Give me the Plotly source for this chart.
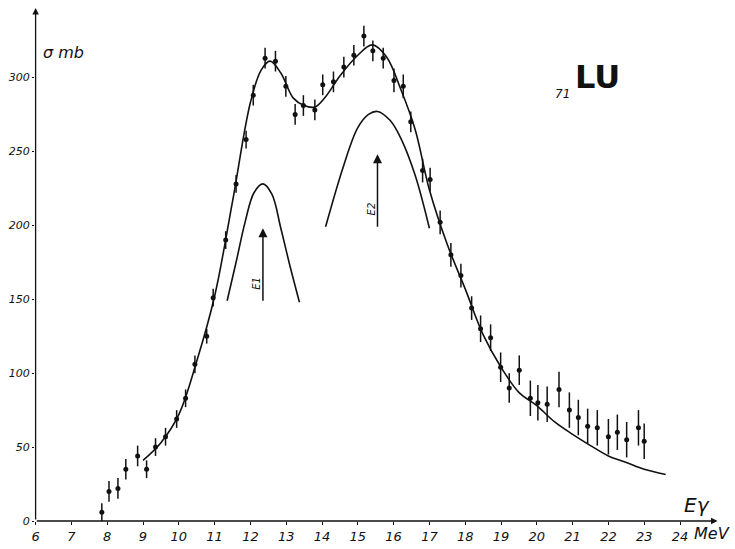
import plotly.graph_objects as go

# Measured points (E_gamma in MeV, sigma in mb, error in mb)
E_pts = [7.85, 8.05, 8.3, 8.52, 8.85, 9.1, 9.35, 9.63, 9.94, 10.19,
         10.45, 10.78, 10.96, 11.31, 11.6, 11.88, 12.08, 12.41, 12.7, 12.99,
         13.25, 13.48, 13.8, 14.02, 14.32, 14.61, 14.89, 15.17, 15.42, 15.71,
         16.01, 16.27, 16.48, 16.81, 17.02, 17.3, 17.6, 17.88, 18.18, 18.43,
         18.71, 18.99, 19.23, 19.51, 19.82, 20.03, 20.29, 20.62, 20.91, 21.16,
         21.42, 21.69, 22.0, 22.25, 22.51, 22.84, 23.0]
sig_pts = [6, 20, 22, 35, 44, 35, 50, 57, 69, 83,
           106, 125, 151, 190, 228, 258, 288, 313, 311, 294,
           275, 281, 278, 295, 297, 307, 315, 328, 318, 313,
           298, 294, 270, 237, 231, 202, 180, 166, 144, 130,
           124, 104, 90, 102, 83, 80, 79, 89, 75, 70,
           64, 63, 57, 60, 55, 63, 54]
err_pts = [6, 7, 7, 7, 7, 6, 6, 6, 6, 6,
           6, 5, 6, 6, 6, 6, 7, 7, 7, 7,
           7, 7, 7, 7, 7, 7, 7, 7, 7, 7,
           8, 8, 7, 8, 8, 8, 8, 8, 8, 9,
           9, 10, 10, 10, 12, 12, 12, 12, 12, 12,
           12, 12, 12, 12, 12, 12, 12]

# Total fitted curve
E_fit = [9.0, 9.5, 10.0, 10.5, 11.0, 11.5, 12.0, 12.3, 12.55, 12.85,
         13.2, 13.5, 13.8, 14.1, 14.5, 15.0, 15.4, 15.8, 16.2, 16.6,
         17.0, 17.5, 18.0, 18.5, 19.0, 19.5, 20.0, 20.5, 21.0, 21.5,
         22.0, 22.5, 23.0, 23.6]
sig_fit = [41, 53, 72, 108, 152, 216, 283, 305, 311, 303,
           286, 281, 280, 287, 301, 315, 322, 314, 292, 265,
           224, 187, 157, 126, 104, 87, 78, 67, 58.6, 51,
           44, 39.6, 35, 31.5]

# Component E1
E_c1 = [11.35, 11.6, 11.85, 12.1, 12.35, 12.6, 12.85, 13.1, 13.37]
sig_c1 = [149, 175, 202, 222, 228, 221, 198, 173, 148]
# Component E2
E_c2 = [14.1, 14.6, 15.0, 15.3, 15.55, 15.9, 16.2, 16.6, 17.0]
sig_c2 = [199, 240, 266, 275, 277, 271, 259, 234, 198]

x_ticks = list(range(6, 25))
y_ticks = [0, 50, 100, 150, 200, 250, 300]

# Resonance arrows: (energy, sigma tail, sigma head, label)
arrows = [(12.35, 148, 198, "E1"), (15.55, 198, 248, "E2")]

BLACK = "#111111"

fig = go.Figure()
fig.add_trace(go.Scatter(x=E_fit, y=sig_fit, mode="lines",
                         line=dict(color=BLACK, width=1.6, shape="spline", smoothing=1.0),
                         hoverinfo="skip", showlegend=False))
fig.add_trace(go.Scatter(x=E_c1, y=sig_c1, mode="lines",
                         line=dict(color=BLACK, width=1.6, shape="spline", smoothing=1.0),
                         hoverinfo="skip", showlegend=False))
fig.add_trace(go.Scatter(x=E_c2, y=sig_c2, mode="lines",
                         line=dict(color=BLACK, width=1.6, shape="spline", smoothing=1.0),
                         hoverinfo="skip", showlegend=False))
fig.add_trace(go.Scatter(x=E_pts, y=sig_pts, mode="markers",
                         marker=dict(color=BLACK, size=5, symbol="circle"),
                         error_y=dict(type="data", array=err_pts, visible=True,
                                      color=BLACK, thickness=1.5, width=0),
                         showlegend=False))

ann = []
# axis arrows
ann.append(dict(x=25.05, y=0, ax=5.99, ay=0, xref="x", yref="y", axref="x", ayref="y",
                showarrow=True, arrowhead=2, arrowsize=1, arrowwidth=1.3,
                arrowcolor=BLACK, text=""))
ann.append(dict(x=6.0, y=347, ax=6.0, ay=0, xref="x", yref="y", axref="x", ayref="y",
                showarrow=True, arrowhead=2, arrowsize=1, arrowwidth=1.3,
                arrowcolor=BLACK, text=""))
for e, s0, s1, lab in arrows:
    ann.append(dict(x=e, y=s1, ax=e, ay=s0, xref="x", yref="y", axref="x", ayref="y",
                    showarrow=True, arrowhead=2, arrowsize=1.2, arrowwidth=1.5,
                    arrowcolor=BLACK, text=""))
    ann.append(dict(x=e - 0.17, y=s0 + 13, xref="x", yref="y", text=lab,
                    showarrow=False, textangle=-90,
                    font=dict(family="DejaVu Sans", size=10, color=BLACK, style="italic")))

ann.append(dict(x=6.15, y=317, xref="x", yref="y", text="σ mb", xanchor="left",
                showarrow=False,
                font=dict(family="DejaVu Sans", size=16, color=BLACK, style="italic")))
ann.append(dict(x=20.45, y=289, xref="x", yref="y", text="71", xanchor="left",
                showarrow=False,
                font=dict(family="DejaVu Sans", size=12, color=BLACK, style="italic")))
ann.append(dict(x=21.0, y=300, xref="x", yref="y", text="LU", xanchor="left",
                showarrow=False,
                font=dict(family="DejaVu Sans", size=32, color=BLACK, weight="bold")))
ann.append(dict(x=24.05, y=11, xref="x", yref="y", text="Eγ", xanchor="left",
                showarrow=False,
                font=dict(family="DejaVu Sans", size=20, color=BLACK, style="italic")))
# below axis, outside range -> paper coordinates
ann.append(dict(x=0.952, y=-0.025, xref="paper", yref="paper", text="MeV",
                xanchor="left", yanchor="middle", showarrow=False,
                font=dict(family="DejaVu Sans", size=16, color=BLACK, style="italic")))

px_per_mev = 35.8
x0 = 6 - 0.6 / px_per_mev
fig.update_layout(
    width=735, height=549,
    margin=dict(l=35, r=10, t=5, b=24),
    paper_bgcolor="white", plot_bgcolor="white",
    annotations=ann,
    xaxis=dict(range=[x0, x0 + 690 / px_per_mev], tickvals=x_ticks,
               ticktext=[str(v) for v in x_ticks],
               showgrid=False, zeroline=False, showline=False,
               ticks="outside", ticklen=3, tickcolor=BLACK, tickwidth=1,
               tickfont=dict(family="DejaVu Sans", size=13, color=BLACK, style="italic")),
    yaxis=dict(range=[0, 520 / 1.49], tickvals=y_ticks,
               ticktext=[str(v) for v in y_ticks],
               showgrid=False, zeroline=False, showline=False,
               ticks="outside", ticklen=2, tickcolor=BLACK, tickwidth=1,
               tickfont=dict(family="DejaVu Sans", size=11, color=BLACK, style="italic")),
)
fig.write_html("out.html")
